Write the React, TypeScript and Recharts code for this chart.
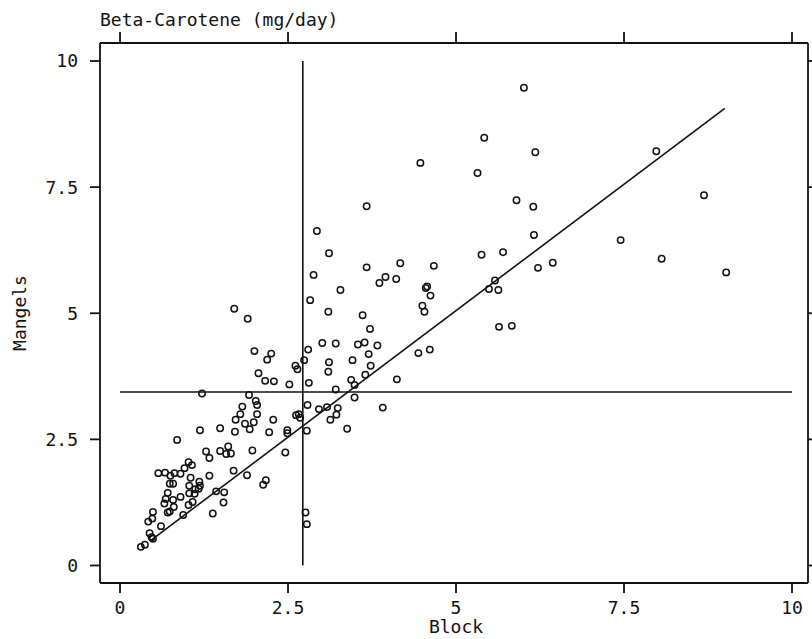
import { ScatterChart, Scatter, XAxis, YAxis, ReferenceLine } from 'recharts'

// Block (x) and Mangels (y), same order in both arrays
const blockValues = [
  0.31, 0.37, 0.44, 0.47, 0.49, 0.61, 0.42, 0.48, 0.49, 0.94,
  1.38, 0.71, 0.74, 0.8, 1.02, 1.08, 0.66, 0.68, 0.79, 0.9,
  0.71, 1.03, 1.11, 1.12, 1.17, 1.19, 1.18, 1.03, 0.74, 0.79,
  1.43, 1.55, 1.54, 1.05, 1.33, 0.75, 0.81, 0.9, 0.57, 0.67,
  0.96, 1.02, 1.07, 1.69, 1.89, 2.17, 2.13, 1.28, 1.33, 1.49,
  1.58, 1.65, 1.61, 1.97, 2.46, 0.85, 1.19, 1.49, 1.71, 1.93,
  2.22, 2.49, 2.49, 2.78, 1.72, 1.86, 1.99, 2.28, 1.79, 2.04,
  1.82, 2.02, 2.04, 1.92, 1.22, 2.62, 2.66, 2.68, 2.79, 2.96,
  2.16, 2.29, 2.52, 2.81, 2.76, 2.78,
  3.11, 3.67, 4.17, 2.88, 3.86, 3.95, 4.11, 3.28, 2.83, 1.7,
  1.9, 3.1, 3.61, 3.72, 2.0, 2.25, 2.19, 2.8, 2.74, 3.01,
  3.21, 3.54, 3.64, 3.83, 3.7, 3.73, 3.46, 3.11, 3.1, 2.61,
  2.64, 2.06, 3.44, 3.49, 3.65, 4.12, 3.21, 3.08, 3.24, 3.22,
  3.13, 3.38, 3.49, 3.91, 3.67, 2.93, 4.67, 5.38, 4.55, 4.57,
  4.62, 4.5, 4.53, 5.58, 5.49, 5.63, 5.64, 4.44, 4.61,
  6.01, 5.42, 6.18, 5.32, 4.47, 7.98, 8.69, 5.9, 6.15, 6.16,
  7.45, 5.7, 8.06, 9.02, 6.22, 6.44, 5.83,
]

const mangelValues = [
  0.37, 0.41, 0.64, 0.56, 0.53, 0.78, 0.87, 0.93, 1.06, 1.0,
  1.03, 1.05, 1.07, 1.16, 1.2, 1.26, 1.23, 1.32, 1.3, 1.36,
  1.44, 1.43, 1.42, 1.51, 1.52, 1.58, 1.66, 1.58, 1.62, 1.62,
  1.47, 1.45, 1.25, 1.74, 1.78, 1.78, 1.83, 1.82, 1.83, 1.84,
  1.93, 2.05, 1.99, 1.88, 1.79, 1.69, 1.6, 2.26, 2.13, 2.27,
  2.21, 2.22, 2.36, 2.28, 2.24, 2.49, 2.68, 2.72, 2.65, 2.7,
  2.64, 2.68, 2.62, 2.67, 2.89, 2.81, 2.84, 2.89, 3.0, 3.0,
  3.15, 3.26, 3.18, 3.38, 3.41, 2.98, 3.0, 2.93, 3.18, 3.1,
  3.66, 3.65, 3.59, 3.62, 1.05, 0.82,
  6.19, 5.91, 5.99, 5.76, 5.6, 5.72, 5.68, 5.46, 5.26, 5.09,
  4.89, 5.03, 4.96, 4.69, 4.25, 4.2, 4.08, 4.28, 4.07, 4.41,
  4.4, 4.38, 4.42, 4.36, 4.19, 3.96, 4.07, 4.03, 3.84, 3.96,
  3.89, 3.81, 3.68, 3.58, 3.78, 3.69, 3.49, 3.14, 3.12, 2.99,
  2.89, 2.71, 3.33, 3.13, 7.12, 6.63, 5.94, 6.16, 5.5, 5.53,
  5.35, 5.15, 5.03, 5.65, 5.48, 5.46, 4.73, 4.21, 4.28,
  9.47, 8.48, 8.19, 7.78, 7.98, 8.21, 7.34, 7.24, 7.11, 6.55,
  6.45, 6.21, 6.08, 5.81, 5.9, 6.0, 4.75,
]

const tickValues = [0, 2.5, 5, 7.5, 10]

// mean lines and fitted line
const blockMean = 2.72
const mangelMean = 3.44
const fitStart = [0.46, 0.5]
const fitEnd = [9.0, 9.06]

const points = blockValues.map((x, i) => ({ x, y: mangelValues[i] }))

const xDomain = [-0.298, 10.238]
const yDomain = [-0.347, 10.357]

const ink = '#111'
const font = "'DejaVu Sans Mono', monospace"
const tickStyle = { fill: ink, fontSize: 18, fontFamily: font }
const lineStyle = { stroke: ink, strokeWidth: 1.8 }

function Ring(props: any) {
  const { cx, cy } = props
  if (cx == null || cy == null) return null
  return <circle cx={cx} cy={cy} r={3.2} fill="none" stroke={ink} strokeWidth={1.5} />
}

// tick marks only, no label
const NoLabel = () => <g />
const NoMark = () => <g />

export default function App() {
  return (
    <div style={{ position: 'absolute', left: 0, top: 0, width: 812, height: 639, background: '#fff' }}>
      <ScatterChart width={812} height={639} margin={{ top: 0, right: 0, bottom: 0, left: 0 }}>
        <XAxis
          xAxisId="bottom"
          type="number"
          dataKey="x"
          domain={xDomain}
          allowDataOverflow
          ticks={tickValues}
          height={56}
          tickSize={10}
          tickMargin={8}
          axisLine={lineStyle}
          tickLine={lineStyle}
          tick={tickStyle}
        />
        <XAxis
          xAxisId="top"
          orientation="top"
          type="number"
          dataKey="x"
          domain={xDomain}
          allowDataOverflow
          ticks={tickValues}
          height={43}
          tickSize={11}
          axisLine={lineStyle}
          tickLine={lineStyle}
          tick={NoLabel}
        />
        <YAxis
          yAxisId="left"
          type="number"
          dataKey="y"
          domain={yDomain}
          allowDataOverflow
          ticks={tickValues}
          width={100}
          tickSize={10}
          tickMargin={12}
          axisLine={lineStyle}
          tickLine={lineStyle}
          tick={tickStyle}
        />
        <YAxis
          yAxisId="right"
          orientation="right"
          type="number"
          dataKey="y"
          domain={yDomain}
          allowDataOverflow
          ticks={tickValues}
          width={4}
          tickSize={8}
          axisLine={lineStyle}
          tickLine={lineStyle}
          tick={NoLabel}
        />
        <ReferenceLine
          xAxisId="bottom"
          yAxisId="left"
          segment={[{ x: blockMean, y: 0 }, { x: blockMean, y: 10 }]}
          stroke={ink}
          strokeWidth={1.6}
          ifOverflow="visible"
        />
        <ReferenceLine
          xAxisId="bottom"
          yAxisId="left"
          segment={[{ x: 0, y: mangelMean }, { x: 10, y: mangelMean }]}
          stroke={ink}
          strokeWidth={1.6}
          ifOverflow="visible"
        />
        <ReferenceLine
          xAxisId="bottom"
          yAxisId="left"
          segment={[{ x: fitStart[0], y: fitStart[1] }, { x: fitEnd[0], y: fitEnd[1] }]}
          stroke={ink}
          strokeWidth={1.6}
          ifOverflow="visible"
        />
        {/* hidden series so the top / right frame axes get their scales */}
        <Scatter
          xAxisId="top"
          yAxisId="right"
          data={points}
          shape={NoMark}
          isAnimationActive={false}
        />
        <Scatter
          xAxisId="bottom"
          yAxisId="left"
          data={points}
          shape={Ring}
          isAnimationActive={false}
        />
      </ScatterChart>
      <svg
        width={812}
        height={639}
        style={{ position: 'absolute', left: 0, top: 0, pointerEvents: 'none' }}
      >
        <g fill={ink} fontFamily={font} fontSize={18}>
          <text x={100} y={26}>Beta-Carotene (mg/day)</text>
          <text x={456} y={633} textAnchor="middle">Block</text>
          <text transform="translate(26,313) rotate(-90)" textAnchor="middle">Mangels</text>
        </g>
      </svg>
    </div>
  )
}
